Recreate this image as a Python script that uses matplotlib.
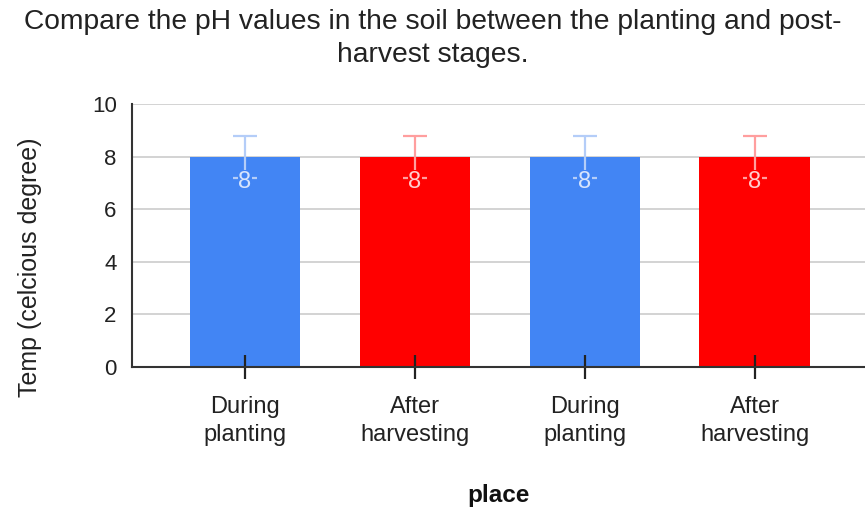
import matplotlib
matplotlib.use("Agg")
import matplotlib.pyplot as plt

categories = ["During\nplanting", "After\nharvesting", "During\nplanting", "After\nharvesting"]
values = [8, 8, 8, 8]
errors = [0.8, 0.8, 0.8, 0.8]
bar_colors = ["#4285f4", "#ff0000", "#4285f4", "#ff0000"]
err_colors = ["#b4cdf8", "#ff9e9e", "#b4cdf8", "#ff9e9e"]
label_colors = ["#d6e4fc", "#ffcccc", "#d6e4fc", "#ffcccc"]
yticks = [0, 2, 4, 6, 8, 10]

plt.rcParams['font.family'] = ['Liberation Sans', 'DejaVu Sans']

fig = plt.figure(figsize=(8.65, 5.14), dpi=100)
ax = fig.add_axes([132/865, 1 - 367/514, 1 - 132/865, (367 - 104)/514])
ax.set_axisbelow(False)

for yt in yticks[1:]:
    ax.axhline(yt, color="#cccccc", linewidth=1.2, zorder=0.5)

x = list(range(len(categories)))
ax.bar(x, values, width=0.65, color=bar_colors, zorder=2)
for xi, v, e, c, bc, lc in zip(x, values, errors, err_colors, bar_colors, label_colors):
    ax.errorbar(xi, v, yerr=e, color=c, elinewidth=1.6, capsize=8.5, capthick=1.6, zorder=3)
    ax.text(xi, v - e - 0.15, f"{v}", ha="center", va="center", color=lc, fontsize=17, zorder=4,
            bbox=dict(boxstyle="square,pad=0.03", facecolor=bc, edgecolor="none"))

ax.set_xlim(-0.665, 3.65)
ax.set_ylim(0, 10)
ax.set_yticks(yticks)
ax.set_xticks(x)
ax.set_xticklabels(categories, fontsize=17, color="#222222", linespacing=1.36)
ax.tick_params(axis="y", length=0, labelsize=16, labelcolor="#222222", pad=11)
ax.tick_params(axis="x", direction="inout", length=17, width=1.6, color="#222222", pad=12.5)
for s in ["top", "right"]:
    ax.spines[s].set_visible(False)
for s in ["left", "bottom"]:
    ax.spines[s].set_color("#333333")
    ax.spines[s].set_linewidth(1.5)
    ax.spines[s].set_zorder(5)

ax.set_ylabel("Temp (celcious degree)", fontsize=18, color="#222222")
ax.yaxis.set_label_coords(-0.123, 0.38)
ax.set_xlabel("place", fontsize=17.5, fontweight="bold", color="#111111", labelpad=27)

fig.text(0.5, 1 - 22/514, "Compare the pH values in the soil between the planting and post-",
         ha="center", va="center", fontsize=20.3, color="#222222")
fig.text(0.5, 1 - 55/514, "harvest stages.", ha="center", va="center", fontsize=20.3, color="#222222")

fig.savefig("out.png", dpi=100)
